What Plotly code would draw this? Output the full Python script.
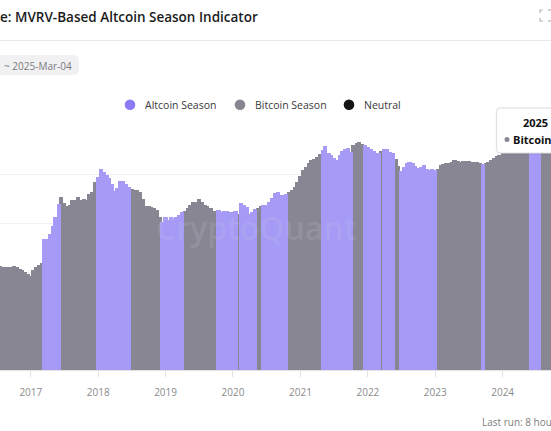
import plotly.graph_objects as go
import pandas as pd

# ---------------- data ----------------
# semi-monthly samples (1st and 15th) from 2016-07-01 to 2024-10-01
dates = pd.date_range("2016-07-01", "2024-10-01", freq="SMS")

values = [
    2.12, 2.12, 2.10, 2.10, 2.10, 2.10, 2.12, 2.10, 2.06, 2.04,
    2.00, 1.96, 1.92, 2.04, 2.10, 2.14, 2.18, 2.67, 2.67, 2.78,
    2.94, 3.12, 3.39, 3.53, 3.41, 3.35, 3.37, 3.47, 3.47, 3.53,
    3.47, 3.49, 3.47, 3.59, 3.63, 3.84, 3.94, 4.10, 4.04, 3.98,
    3.92, 3.80, 3.65, 3.71, 3.86, 3.86, 3.80, 3.73, 3.69, 3.67,
    3.67, 3.63, 3.49, 3.35, 3.35, 3.33, 3.31, 3.27, 3.12, 3.02,
    3.12, 3.06, 3.12, 3.10, 3.12, 3.16, 3.22, 3.24, 3.31, 3.37,
    3.43, 3.43, 3.49, 3.43, 3.37, 3.35, 3.31, 3.24, 3.24, 3.27,
    3.22, 3.24, 3.24, 3.22, 3.22, 3.24, 3.18, 3.41, 3.37, 3.33,
    3.18, 3.22, 3.29, 3.31, 3.35, 3.37, 3.37, 3.43, 3.51, 3.61,
    3.63, 3.57, 3.57, 3.59, 3.63, 3.67, 3.73, 3.84, 3.96, 4.08,
    4.14, 4.22, 4.29, 4.31, 4.35, 4.41, 4.49, 4.57, 4.43, 4.39,
    4.33, 4.29, 4.39, 4.47, 4.51, 4.53, 4.45, 4.59, 4.63, 4.65,
    4.61, 4.59, 4.55, 4.51, 4.47, 4.43, 4.43, 4.47, 4.51, 4.51,
    4.45, 4.43, 4.31, 4.16, 4.06, 4.14, 4.22, 4.24, 4.22, 4.16,
    4.12, 4.14, 4.18, 4.10, 4.08, 4.10, 4.08, 4.10, 4.18, 4.20,
    4.22, 4.22, 4.24, 4.29, 4.27, 4.24, 4.27, 4.27, 4.27, 4.24,
    4.24, 4.24, 4.22, 4.20, 4.22, 4.24, 4.29, 4.33, 4.37, 4.39,
    4.45, 4.47, 4.49, 4.49, 4.51, 4.51, 4.53, 4.53, 4.51, 4.49,
    4.49, 4.51, 4.51, 4.53, 4.53, 4.51, 4.49, 4.49, 4.49,
]

season_starts = [
    "2016-07-01", "2017-03-15", "2017-06-15", "2018-01-01", "2018-07-01",
    "2018-12-15", "2019-04-15", "2019-10-15", "2020-02-01", "2020-02-15",
    "2020-05-15", "2020-06-15", "2020-11-01", "2021-05-01", "2021-10-15",
    "2021-12-15", "2022-03-15", "2022-04-01", "2022-06-01", "2022-07-01",
    "2023-01-15", "2023-09-15", "2023-10-01", "2024-06-01", "2024-08-01",
]
season_labels = [
    "Bitcoin Season", "Altcoin Season", "Bitcoin Season", "Altcoin Season", "Bitcoin Season",
    "Altcoin Season", "Bitcoin Season", "Altcoin Season", "Bitcoin Season", "Altcoin Season",
    "Bitcoin Season", "Altcoin Season", "Bitcoin Season", "Altcoin Season", "Bitcoin Season",
    "Altcoin Season", "Bitcoin Season", "Altcoin Season", "Bitcoin Season", "Altcoin Season",
    "Bitcoin Season", "Altcoin Season", "Bitcoin Season", "Altcoin Season", "Bitcoin Season",
]

legend_names = ["Altcoin Season", "Bitcoin Season", "Neutral"]
legend_colors = ["#8b7cf6", "#87858f", "#141414"]
bar_colors = {"Altcoin Season": "#a59af5", "Bitcoin Season": "#898693", "Neutral": "#2a2a2a"}

x_range = ["2016-07-18", "2024-09-19"]
title_text = "e: MVRV-Based Altcoin Season Indicator"
date_text = "~ 2025-Mar-04"
tooltip_title = "2025 Mar 04"
tooltip_series = "Bitcoin Season"
footer_text = "Last run: 8 hours ago"

# ---------------- layout helpers ----------------
W, H = 551, 431
TOP, BOTTOM = 125, 370
FONT = "Open Sans"


def fx(px):
    return px / W


def fy(py):
    return (BOTTOM - py) / (BOTTOM - TOP)


def rrect(x0, y0, x1, y1, r):
    p = [
        f"M {fx(x0 + r)},{fy(y0)}", f"L {fx(x1 - r)},{fy(y0)}",
        f"Q {fx(x1)},{fy(y0)} {fx(x1)},{fy(y0 + r)}", f"L {fx(x1)},{fy(y1 - r)}",
        f"Q {fx(x1)},{fy(y1)} {fx(x1 - r)},{fy(y1)}", f"L {fx(x0 + r)},{fy(y1)}",
        f"Q {fx(x0)},{fy(y1)} {fx(x0)},{fy(y1 - r)}", f"L {fx(x0)},{fy(y0 + r)}",
        f"Q {fx(x0)},{fy(y0)} {fx(x0 + r)},{fy(y0)}", "Z",
    ]
    return " ".join(p)


# ---------------- season per sample ----------------
starts = pd.to_datetime(season_starts)
season_of = []
for d in dates:
    lab = season_labels[0]
    for s, l in zip(starts, season_labels):
        if d >= s:
            lab = l
    season_of.append(lab)

BAR_W = 23 * 86400000

fig = go.Figure()
for name in ["Bitcoin Season", "Altcoin Season"]:
    xs = [d for d, s in zip(dates, season_of) if s == name]
    ys = [v for v, s in zip(values, season_of) if s == name]
    fig.add_trace(go.Bar(
        x=xs, y=ys, width=[BAR_W] * len(xs), name=name, showlegend=False,
        marker=dict(color=bar_colors[name], line=dict(width=0)),
    ))

shapes = []
annotations = []


def text(px, py, s, size, color, weight=400, anchor="left"):
    annotations.append(dict(
        xref="paper", yref="paper", x=fx(px), y=fy(py), text=s, showarrow=False,
        xanchor=anchor, yanchor="middle",
        font=dict(size=size, color=color, family=FONT, weight=weight),
    ))


# title + separator
text(-2, 16.5, title_text, 13.5, "#1c1c1c", 600)
shapes.append(dict(type="line", xref="paper", yref="paper", x0=0, x1=1,
                   y0=fy(40.5), y1=fy(40.5), line=dict(color="#e8e8e8", width=1)))
# expand icon
for path in [
    f"M {fx(540)},{fy(13)} L {fx(540)},{fy(10)} L {fx(543)},{fy(10)}",
    f"M {fx(540)},{fy(18)} L {fx(540)},{fy(21)} L {fx(543)},{fy(21)}",
    f"M {fx(548)},{fy(10)} L {fx(551)},{fy(10)}",
    f"M {fx(548)},{fy(21)} L {fx(551)},{fy(21)}",
]:
    shapes.append(dict(type="path", xref="paper", yref="paper", path=path,
                       line=dict(color="#b5b5b5", width=1.2)))

# date pill
shapes.append(dict(type="path", xref="paper", yref="paper", path=rrect(-10, 55, 79, 75, 6),
                   fillcolor="#f1f1f4", line=dict(width=0)))
text(1.5, 65.5, date_text, 10, "#7a7a7a")

# legend
leg_x = [130, 240, 349]
for cx, name, col in zip(leg_x, legend_names, legend_colors):
    r = 5.3
    shapes.append(dict(type="circle", xref="paper", yref="paper",
                       x0=fx(cx - r), x1=fx(cx + r), y0=fy(104.8 + r), y1=fy(104.8 - r),
                       fillcolor=col, line=dict(width=0)))
    text(cx + 12.5, 104.8, name, 10.5, "#3a3a3a")

# watermark
text(256, 227, "CryptoQuant", 32, "rgba(225,225,242,0.13)", 600, "center")

# tooltip
shapes.append(dict(type="path", xref="paper", yref="paper", path=rrect(495.5, 107, 620, 155, 5),
                   fillcolor="rgba(0,0,0,0.04)", line=dict(width=0)))
shapes.append(dict(type="path", xref="paper", yref="paper", path=rrect(496.5, 108, 620, 153, 4),
                   fillcolor="#ffffff", line=dict(color="#e0e0e0", width=1)))
text(521, 123, tooltip_title, 11, "#111111", 700)
shapes.append(dict(type="circle", xref="paper", yref="paper",
                   x0=fx(504.5), x1=fx(509.5), y0=fy(142), y1=fy(137),
                   fillcolor="#8a8894", line=dict(width=0)))
text(511, 139.5, tooltip_series, 11, "#111111", 700)

# footer
text(479.5, 421.5, footer_text, 10, "#7d7d7d")

fig.update_layout(
    width=W, height=H,
    margin=dict(l=0, r=0, t=TOP, b=H - BOTTOM, pad=0),
    paper_bgcolor="#ffffff", plot_bgcolor="#ffffff",
    barmode="overlay", bargap=0,
    showlegend=False,
    font=dict(family=FONT),
    shapes=shapes, annotations=annotations,
    xaxis=dict(
        type="date", range=x_range, showgrid=False, zeroline=False,
        showline=True, linecolor="#e2e2e2", linewidth=1,
        ticks="outside", ticklen=6, tickcolor="#e2e2e2",
        tick0="2017-01-01", dtick="M12", tickformat="%Y",
        tickfont=dict(size=10, color="#8a8a8a", family=FONT),
        ticklabelstandoff=7, fixedrange=True,
    ),
    yaxis=dict(
        range=[0, 5], tickvals=[1, 2, 3, 4], showticklabels=False,
        showgrid=True, gridcolor="#f1f1f1", zeroline=False, showline=False,
        fixedrange=True,
    ),
)

fig.write_html(
    "out.html",
    config={"displayModeBar": False},
    post_script="document.body.style.margin='0';document.body.style.overflow='hidden';",
)
